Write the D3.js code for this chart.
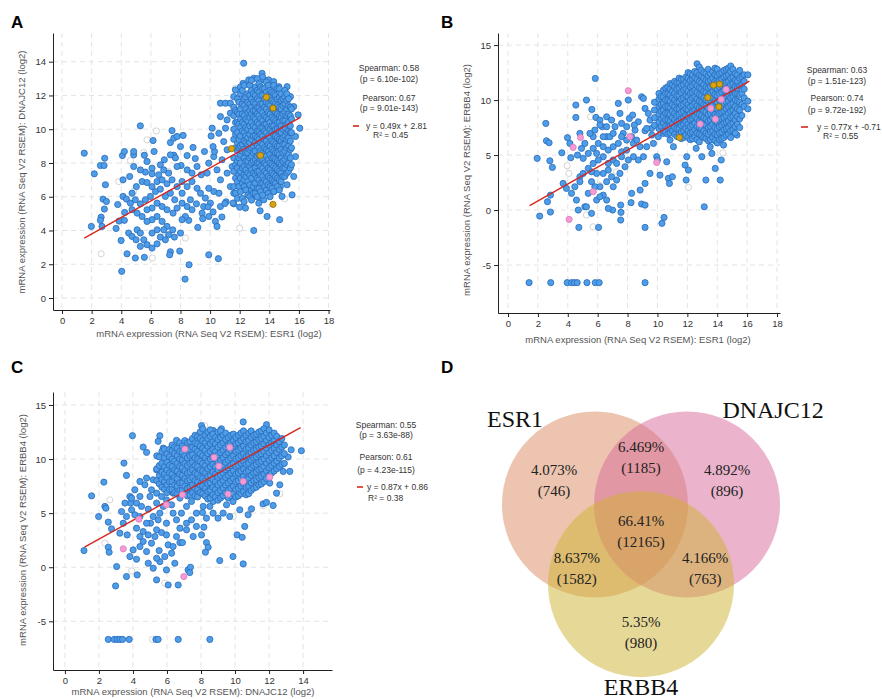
<!DOCTYPE html>
<html><head><meta charset="utf-8">
<script src="https://cdn.jsdelivr.net/npm/d3@7"></script>
<style>
body{margin:0;background:#fff;}
svg{display:block;font-family:"Liberation Sans",Arial,sans-serif;}
</style></head><body>
<svg id="chart" width="882" height="699"></svg>
<script>
// ---------------- DATA ----------------
// Panel A : ESR1 (x) vs DNAJC12 (y)
const xTicksA = [0,2,4,6,8,10,12,14,16,18];
const yTicksA = [0,2,4,6,8,10,12,14];
const bluePtsA = [[1.5,8.58],[2.18,7.36],[1.98,4.24],[2.59,7.85],[2.88,8.28],[2.84,7.85],[2.93,6.71],[2.77,5.86],[3.0,5.72],[2.86,5.27],[2.64,4.79],[2.59,4.6],[2.7,4.24],[3.65,4.12],[3.76,5.54],[3.85,4.56],[4.12,7.0],[4.08,8.44],[4.21,8.68],[4.12,6.02],[4.35,5.86],[4.23,5.07],[4.21,4.6],[3.99,3.41],[4.39,2.62],[4.03,1.58],[4.84,8.48],[4.84,8.68],[5.29,10.2],[4.95,2.37],[5.56,2.41],[6.15,9.33],[6.22,8.68],[5.56,8.46],[6.08,7.69],[6.64,7.89],[6.87,7.59],[7.2,7.4],[7.32,9.21],[7.43,9.92],[7.55,9.47],[7.77,9.57],[8.18,9.63],[8.0,8.97],[7.55,8.46],[7.66,8.3],[8.04,7.85],[8.45,8.44],[8.85,8.92],[9.0,8.26],[9.62,8.68],[9.91,7.99],[9.8,7.4],[9.4,7.3],[10.25,8.38],[10.3,8.68],[10.2,8.97],[10.07,9.6],[10.14,10.06],[10.7,10.75],[10.7,11.54],[11.04,11.54],[11.37,11.54],[8.11,6.9],[8.45,6.6],[8.78,6.9],[8.67,5.82],[9.12,6.5],[9.35,6.21],[9.68,5.92],[9.91,6.5],[10.25,6.31],[10.6,6.21],[9.08,5.58],[9.46,5.03],[9.91,4.83],[10.36,4.54],[10.47,4.24],[9.17,4.18],[8.56,4.6],[8.33,4.83],[8.11,5.62],[8.0,3.85],[7.95,2.78],[7.32,2.74],[7.27,2.56],[8.58,1.97],[8.31,1.12],[9.91,2.56],[10.56,2.33],[11.08,5.7],[11.6,5.58],[12.0,5.38],[12.39,5.33],[12.95,4.0],[13.38,5.17],[13.85,4.83],[14.7,4.64],[13.45,5.88],[13.06,6.06],
[5.07,4.04],[5.29,3.85],[5.52,3.45],[5.74,3.16],[6.08,2.96],[6.42,3.21],[6.64,3.61],[6.98,3.45],[7.2,3.75],[7.59,3.61],[7.48,4.04],[7.09,4.24],[6.76,4.54],[6.42,4.83],[6.08,4.64],[5.74,4.54],[5.41,4.83],[5.07,5.03],[4.73,5.23],[4.62,5.62],[4.95,5.82],[5.29,5.58],[5.63,5.82],[5.97,6.02],[6.31,6.31],[6.64,6.45],[6.98,6.02],[7.32,6.21],[7.61,5.82],[7.77,5.33],[7.5,5.03],[7.09,5.23],[6.76,5.42],[6.42,5.62],[6.08,5.33],[5.74,5.23],[5.41,6.9],[5.74,6.84],[6.08,6.6],[6.42,6.9],[6.76,7.0],[7.09,6.77],[7.43,7.0],[7.77,6.6],[5.02,6.6],[4.73,6.21],[4.5,3.85],[4.73,3.65],[5.0,3.45],[5.29,3.06],[6.08,3.85],[6.42,4.04],[6.87,4.04],[6.08,7.36],[5.63,7.46],[6.53,7.3],[4.57,7.2],[4.84,7.79],[5.29,7.59],[5.74,8.09],[6.91,8.19],[7.32,8.48],[7.77,7.79],[8.45,7.59],[8.78,7.4],[9.12,7.79],[8.11,6.21],[8.45,5.42],[8.78,5.23],[8.11,4.64],[9.57,5.42],[10.02,5.62],[10.7,5.42],[10.7,7.0],[10.47,7.59],[10.81,8.19],[11.15,8.78],[10.92,9.27],[10.59,9.76],[11.04,10.06],[11.15,10.55],[11.37,10.95],[11.71,11.14],[11.6,11.93],[11.71,12.33],[12.27,13.91],[12.23,12.72],[12.61,12.92],[12.95,13.02],[13.51,13.31],[13.63,12.92],[13.96,12.92],[14.3,12.82],[14.64,12.52],[15.2,12.52],[15.43,11.93],[15.65,11.34],[15.95,10.85],[16.06,10.06],[15.77,9.57],[15.77,8.38],[15.65,7.2],[15.54,6.11],[15.2,6.71],[14.86,6.02],[14.75,6.6],[14.3,6.31],[13.96,6.5],[13.63,5.82],[13.29,5.62],[12.95,6.6],[12.61,6.8],[12.27,6.41],[11.94,6.6],[11.6,6.21],[11.37,6.6],[11.15,7.4],[11.49,7.79],[10.8,4.8],[11.0,5.6],[9.5,4.7],[9.86,5.4],[10.2,5.1],[11.55,5.63]];
// dense cluster of panel A, read column by column: [x, [y values]]
const clusterA = [
 [11.6,[6.6,7.5,8.3,9.4,10.0,10.8,11.3]],
 [11.72,[6.2,7.1,7.9,8.9,9.7,10.4,11.1]],
 [11.85,[5.9,6.9,7.7,8.1,8.7,9.2,9.8,10.4,11.0,11.8]],
 [11.95,[6.6,7.3,8.3,8.9,9.4,10.3,10.9,11.6]],
 [12.05,[6.3,7.1,7.5,8.0,8.5,9.0,9.6,10.1,10.6,11.2,12.1,12.5]],
 [12.18,[5.9,6.8,7.7,8.7,9.1,9.9,10.4,10.9,11.5,12.3]],
 [12.3,[5.7,6.6,7.0,7.3,7.8,8.3,8.8,9.3,9.8,10.3,10.8,11.4,11.8,12.6]],
 [12.42,[6.4,7.2,7.6,8.1,8.6,9.2,9.6,10.1,10.6,11.2,11.9]],
 [12.55,[6.1,6.9,7.4,7.9,8.1,8.6,9.1,9.5,10.0,10.5,11.0,11.6,12.1]],
 [12.68,[6.0,6.7,7.3,7.8,8.3,8.8,9.2,9.7,10.2,10.7,11.1,11.5,12.0,12.6]],
 [12.8,[5.8,6.4,7.1,7.6,8.0,8.4,8.9,9.4,9.9,10.4,10.9,11.3,11.8,12.3,12.9]],
 [12.92,[6.2,6.6,7.4,8.1,8.6,9.0,9.6,10.2,10.7,11.1,11.6,12.1]],
 [13.05,[6.2,6.8,7.3,7.7,8.2,8.7,9.2,9.6,10.1,10.6,11.1,11.5,12.0,12.5]],
 [13.18,[6.0,6.5,7.1,7.5,8.0,8.4,9.0,9.5,9.9,10.4,10.9,11.3,11.8,12.3,13.0]],
 [13.3,[6.5,7.0,7.5,8.0,8.5,8.9,9.4,9.9,10.3,10.8,11.3,11.7,12.2,12.7]],
 [13.42,[6.3,6.8,7.3,7.8,8.2,8.7,9.2,9.7,10.1,10.6,11.1,11.5,12.0,12.5]],
 [13.55,[6.1,6.8,7.2,7.7,8.2,8.6,9.1,9.6,10.1,10.5,11.0,11.5,12.0,12.4,13.1]],
 [13.68,[6.6,7.0,7.5,8.0,8.5,8.9,9.4,9.9,10.3,10.8,11.3,11.8,12.4]],
 [13.8,[6.4,6.9,7.4,7.9,8.4,8.8,9.3,9.8,10.3,10.7,11.2,11.6,12.2,12.8]],
 [13.93,[6.2,6.7,7.2,7.7,8.2,8.7,9.1,9.6,10.1,10.6,11.0,11.5,12.0,12.6]],
 [14.05,[6.0,6.6,7.1,7.6,8.0,8.5,9.0,9.5,10.0,10.4,10.9,11.4,11.9,12.3]],
 [14.18,[6.5,7.0,7.4,7.9,8.3,8.8,9.3,9.8,10.2,10.7,11.2,11.7,12.2]],
 [14.3,[6.3,6.9,7.3,7.8,8.3,8.7,9.2,9.7,10.2,10.6,11.1,11.6,12.1,12.6]],
 [14.42,[6.8,7.2,7.7,8.2,8.6,9.1,9.6,10.0,10.5,11.0,11.5,12.0]],
 [14.55,[6.6,7.1,7.6,8.1,8.6,9.0,9.5,10.0,10.4,10.9,11.4,11.8,12.4]],
 [14.68,[6.4,7.0,7.5,8.0,8.5,9.0,9.4,9.9,10.4,10.8,11.3,11.9,12.4]],
 [14.8,[6.9,7.4,7.9,8.3,8.8,9.3,9.8,10.2,10.7,11.2,11.7,12.1]],
 [14.92,[7.2,7.7,8.1,8.6,9.1,9.5,10.0,10.5,10.9,11.4,11.8]],
 [15.05,[7.2,7.7,8.2,8.7,9.1,9.6,10.1,10.5,11.0,11.5,11.9,12.3]],
 [15.18,[7.4,7.9,8.4,8.9,9.4,9.8,10.3,10.8,11.2,11.7,12.1]],
 [15.3,[7.5,8.0,8.5,9.0,9.5,9.9,10.4,10.9,11.4,11.8]],
 [15.42,[7.7,8.3,8.8,9.3,9.8,10.2,10.8,11.3]],
 [15.5,[7.9,8.9,9.8,10.6,11.2]]
];
const grayPtsA = [[2.64,2.62],[4.62,8.15],[3.83,6.9],[5.74,9.37],[6.37,9.9],[6.1,2.37],[8.33,3.55],[6.8,3.61],[12.0,4.14],[15.04,5.88],[11.71,12.43],[5.52,8.62],[4.84,6.31],[7.2,7.5]];
const goldPtsA = [[11.45,8.85],[13.8,11.9],[14.25,11.25],[13.4,8.45],[14.25,5.55]];
const pinkPtsA = [];
const regA = {slope:0.49, intercept:2.81, from:1.5, to:16.1};
const statsA = ["Spearman: 0.58","(p = 6.10e-102)","Pearson: 0.67","(p = 9.01e-143)","y = 0.49x + 2.81","R\u00b2 = 0.45"];

// Panel B : ESR1 (x) vs ERBB4 (y)
const xTicksB = [0,2,4,6,8,10,12,14,16,18];
const yTicksB = [-5,0,5,10,15];
const bluePtsB = [[1.95,4.7],[2.53,7.88],[2.57,6.3],[2.75,6.12],[2.8,4.48],[2.97,3.88],[2.84,1.36],[2.84,-0.18],[2.64,0.76],[2.12,-0.55],[3.6,5.21],[3.98,6.58],[4.14,6.06],[4.2,4.76],[4.54,9.55],[4.54,8.42],[4.65,5.0],[4.81,6.97],[4.92,5.61],[5.03,4.7],[4.81,3.03],[4.58,0.91],[4.7,0.0],[4.74,-1.58],[5.25,10.0],[5.61,9.15],[5.84,11.97],[5.88,8.42],[6.06,-1.58],[6.15,8.18],[6.31,7.58],[6.6,8.48],[6.6,6.67],[6.82,6.67],[7.16,7.58],[7.38,9.7],[7.49,8.79],[7.71,6.97],[7.6,5.3],[8.05,10.0],[8.12,8.33],[8.34,8.64],[8.5,7.27],[8.72,8.03],[8.94,10.3],[9.06,10.15],[9.17,9.24],[9.17,7.21],[9.39,8.79],[9.5,8.18],[9.6,7.42],[9.73,6.06],[9.95,4.85],[10.0,4.55],[10.62,4.39],[10.73,2.88],[11.0,3.03],[10.8,2.42],[10.17,3.18],[9.5,3.33],[9.17,2.42],[8.84,1.82],[8.94,0.55],[9.17,0.45],[9.17,-1.58],[10.3,-1.21],[10.44,-0.67],[8.27,1.52],[8.23,0.67],[7.54,0.45],[7.56,-0.21],[7.54,-0.91],[7.0,0.0],[6.71,0.15],[6.6,0.91],[6.37,1.36],[6.15,2.12],[5.81,2.12],[5.59,2.58],[5.37,1.52],[5.14,0.3],[5.59,-0.3],[5.25,0.3],[5.93,0.91],[6.15,1.21],[7.04,2.12],[7.27,2.73],[7.49,3.33],[7.83,3.94],[8.05,4.55],[8.39,4.85],[8.72,4.55],[9.06,4.85],[9.28,5.76],[8.83,5.76],[8.39,6.06],[7.94,6.36],[8.27,6.67],[8.61,6.36],[7.04,4.55],[6.71,4.24],[6.37,4.85],[6.04,4.55],[5.7,4.24],[5.37,3.79],[5.03,3.33],[4.81,2.58],[4.47,2.12],[4.25,1.52],[3.91,1.97],[3.69,2.42],[5.37,5.15],[5.7,5.61],[6.04,6.06],[6.37,5.76],[6.71,5.45],[7.04,5.76],[7.38,6.06],[7.6,6.67],[7.04,6.97],[6.37,6.67],[5.7,6.67],[5.93,5.15],[5.14,6.06],[6.71,3.64],[6.37,3.33],[5.93,3.33],[5.59,3.48],[6.93,3.03],[6.6,2.58],[7.27,4.24],[7.6,4.85],[7.94,5.45],[6.15,7.73],[5.81,7.27],[5.48,6.97],[6.6,7.58],[6.93,8.18],[7.6,7.88],[7.94,7.58],[8.45,7.73],[9.28,7.42],[9.62,6.82],[10.06,6.67],[10.4,6.97],[10.84,6.36],[11.07,5.76],[11.52,6.67],[11.96,4.85],[11.85,4.09],[12.07,3.64],[11.92,2.73],[12.59,5.61],[12.97,4.85],[13.24,2.73],[13.13,0.3],[13.87,3.79],[14.2,2.73],[14.27,4.55],[13.64,5.15],[13.53,5.76],[14.42,5.91],[14.87,6.97],[15.32,6.82],[12.65,13.3],
[1.41,-6.6],[2.86,-6.6],[3.96,-6.6],[4.25,-6.6],[4.43,-6.6],[4.63,-6.6],[5.28,-6.6],[5.84,-6.6],[6.1,-6.6],[9.17,-6.6]];
const clusterB = [
 [9.8,[7.7,8.4,9.1,9.8]],
 [10.1,[7.4,8.0,8.7,9.4,10.1,10.6]],
 [10.25,[7.6,8.3,9.0,9.6,10.3]],
 [10.4,[7.2,7.9,8.5,9.1,9.7,10.3,10.9]],
 [10.55,[7.1,7.6,8.2,8.8,9.4,10.0,10.6,11.1]],
 [10.7,[6.9,7.5,8.2,8.8,9.4,10.0,10.6,11.2]],
 [10.85,[7.0,7.6,8.1,8.7,9.3,9.9,10.5,11.0,11.5]],
 [11.0,[7.2,7.8,8.4,9.0,9.6,10.2,10.8,11.4]],
 [11.15,[6.9,7.5,8.2,8.8,9.4,10.0,10.6,11.2,11.7]],
 [11.3,[6.7,7.4,8.0,8.6,9.2,9.8,10.4,11.0,11.6]],
 [11.45,[6.9,7.4,8.1,8.7,9.2,9.8,10.4,11.1,11.6,12.0]],
 [11.6,[6.5,7.1,7.7,8.3,8.9,9.5,10.1,10.7,11.3,11.9]],
 [11.75,[6.6,7.2,7.8,8.4,9.0,9.6,10.2,10.9,11.4,11.9]],
 [11.9,[6.8,7.4,8.0,8.6,9.2,9.8,10.4,11.0,11.6,12.1]],
 [12.05,[6.6,7.2,7.8,8.5,9.1,9.6,10.3,10.8,11.4,12.0,12.5]],
 [12.2,[6.4,7.0,7.6,8.2,8.8,9.4,10.0,10.6,11.2,11.8,12.4]],
 [12.35,[6.5,7.1,7.7,8.3,9.0,9.5,10.2,10.7,11.3,11.9,12.3]],
 [12.5,[6.7,7.3,7.9,8.5,9.1,9.7,10.3,10.9,11.5,12.0,12.6]],
 [12.65,[6.4,7.0,7.6,8.3,8.9,9.5,10.1,10.7,11.3,11.9,12.5]],
 [12.8,[6.2,6.9,7.5,8.1,8.7,9.3,9.9,10.5,11.1,11.7,12.3,13.0]],
 [12.95,[6.8,7.4,8.0,8.6,9.2,9.8,10.4,11.0,11.6,12.2,12.7]],
 [13.1,[6.6,7.2,7.8,8.4,9.0,9.6,10.2,10.8,11.4,12.0,12.5]],
 [13.25,[6.5,7.0,7.7,8.3,8.9,9.5,10.0,10.7,11.2,11.8,12.4]],
 [13.4,[6.3,6.9,7.5,8.1,8.7,9.3,9.9,10.5,11.1,11.7,12.2,12.8]],
 [13.55,[6.4,7.1,7.6,8.2,8.8,9.4,10.0,10.6,11.2,11.8,12.4]],
 [13.7,[6.6,7.2,7.8,8.4,9.0,9.6,10.2,10.8,11.4,12.0,12.6]],
 [13.85,[6.3,6.9,7.5,8.1,8.7,9.3,9.9,10.5,11.1,11.7,12.3,12.9]],
 [14.0,[6.1,6.8,7.4,8.0,8.6,9.2,9.8,10.4,11.0,11.6,12.2,12.8]],
 [14.15,[6.4,7.0,7.6,8.2,8.8,9.4,10.0,10.6,11.2,11.8,12.4]],
 [14.3,[6.5,7.1,7.7,8.3,8.9,9.5,10.1,10.7,11.3,11.9,12.5]],
 [14.45,[6.6,7.3,7.9,8.4,9.0,9.7,10.3,10.9,11.5,12.1,12.7]],
 [14.6,[6.8,7.4,8.0,8.6,9.2,9.8,10.4,11.0,11.6,12.2,12.8]],
 [14.75,[6.9,7.5,8.1,8.8,9.4,9.9,10.5,11.1,11.7,12.3,12.9]],
 [14.9,[6.6,7.2,7.8,8.4,9.0,9.6,10.2,10.8,11.4,12.0,12.6,13.1]],
 [15.05,[7.3,7.9,8.5,9.1,9.7,10.3,10.9,11.5,12.1,12.8]],
 [15.2,[7.0,7.6,8.2,8.8,9.4,10.0,10.6,11.2,11.8,12.4]],
 [15.35,[7.8,8.5,9.2,9.9,10.6,11.1,11.7,12.3]],
 [15.5,[7.5,8.3,9.1,9.8,10.5,11.3,12.0,12.7]],
 [15.65,[8.6,9.6,10.6,11.4,12.1]],
 [15.8,[9.4,10.2,11.0,11.7,12.3]],
 [16.05,[9.2,9.9,12.3]]
];
const grayPtsB = [[3.96,4.03],[4.07,3.33],[5.52,8.48],[5.25,-0.45],[5.7,-1.52],[7.27,3.48],[12.07,2.06],[14.38,5.21],[6.1,2.27]];
const pinkPtsB = [[8.05,10.85],[4.85,6.6],[4.36,5.7],[8.16,6.67],[9.95,4.33],[5.7,1.67],[4.09,-0.85],[14.6,10.97],[14.27,10.06],[13.57,9.24],[13.87,8.27],[12.86,7.82]];
const goldPtsB = [[11.47,6.6],[13.75,11.36],[14.16,11.45],[13.37,10.24],[14.11,9.39]];
const regB = {slope:0.77, intercept:-0.71, from:1.45, to:16.15};
const statsB = ["Spearman: 0.63","(p = 1.51e-123)","Pearson: 0.74","(p = 9.72e-192)","y = 0.77x + -0.71","R\u00b2 = 0.55"];

// Panel C : DNAJC12 (x) vs ERBB4 (y)
const xTicksC = [0,2,4,6,8,10,12,14];
const yTicksC = [-5,0,5,10,15];
const bluePtsC = [[1.12,1.54],[1.57,6.6],[1.98,4.69],[2.29,7.87],[2.35,5.62],[2.41,5.46],[2.55,4.17],[2.74,3.55],[2.55,1.85],[2.6,1.39],[3.04,0.06],[2.98,-1.73],[3.33,5.15],[3.47,9.63],[3.62,8.49],[3.66,2.99],[3.62,-0.86],[3.97,12.16],[3.82,6.54],[3.86,5.93],[4.11,4.85],[4.21,3.61],[4.21,0.74],[4.25,-0.71],[4.6,11.11],[4.8,10.62],[4.7,7.62],[5.0,6.54],[4.9,5.37],[5.03,4.07],[4.9,2.99],[4.8,1.45],[4.9,0.37],[5.19,-0.09],[5.39,-1.17],[5.54,1.54],[5.58,12.16],[5.48,11.64],[5.78,11.02],[5.97,10.09],[5.74,8.55],[5.68,3.21],[5.97,4.07],[6.07,-1.64],[5.97,-0.25],[6.56,11.73],[6.66,-1.64],[6.46,0.37],[6.76,2.28],[6.91,2.28],[7.24,-0.25],[7.38,0.0],[7.34,-0.49],[7.73,5.0],[8.09,5.06],[8.17,3.7],[8.32,2.28],[8.42,1.85],[8.26,1.39],[9.1,0.62],[9.88,0.99],[10.48,0.31],[10.12,2.99],[10.42,2.77],[10.57,3.77],[10.77,4.85],[10.97,5.4],[11.65,5.86],[11.85,5.99],[12.24,5.71],[12.44,6.85],[12.83,8.86],[13.22,8.86],[13.12,10.19],[13.3,10.86],[13.9,10.77],[12.63,7.62],[12.04,7.78],
[3.23,3.15],[3.43,4.07],[3.62,4.69],[3.92,5.31],[4.21,5.93],[4.41,6.54],[4.5,5.62],[4.41,4.69],[4.41,2.84],[4.6,2.38],[4.41,1.91],[4.01,1.6],[3.82,0.99],[5.09,2.22],[5.29,2.84],[5.39,3.46],[5.48,4.38],[5.58,5.0],[5.78,5.62],[5.39,5.93],[5.19,4.69],[4.8,4.07],[4.6,3.3],[5.97,2.99],[6.07,2.07],[5.87,0.99],[5.58,0.52],[5.39,0.83],[6.27,1.3],[6.36,1.91],[6.56,2.84],[6.76,3.61],[6.56,4.38],[6.36,5.0],[6.27,5.77],[5.97,6.23],[5.68,6.54],[5.39,6.85],[5.09,7.16],[5.58,7.78],[5.97,7.16],[6.36,6.85],[6.76,6.39],[7.15,5.62],[6.85,5.0],[7.44,6.08],[7.73,6.54],[7.93,7.16],[7.63,7.78],[7.34,7.16],[7.05,7.62],[6.76,7.93],[6.36,8.4],[5.97,8.55],[5.39,9.01],[5.78,9.17],[5.19,8.09],[4.8,8.24],[4.41,7.93],[4.11,7.16],[3.92,6.39],[3.53,5.93],[8.32,4.54],[8.71,5.0],[9.0,4.54],[9.3,5.0],[9.69,4.69],[9.5,5.77],[9.88,6.08],[10.28,5.31],[8.71,6.08],[8.32,6.54],[9.1,6.54],[9.69,7.16],[8.52,5.62],[8.13,5.62],[7.15,4.07],[7.44,4.38],[7.73,3.77],[7.15,3.46],[7.54,2.84],[8.03,2.99],[8.03,13.09],[10.48,13.43],[11.85,13.18],[8.71,12.65],[9.2,12.8],
[2.55,-6.67],[2.9,-6.67],[3.07,-6.67],[3.23,-6.67],[3.39,-6.67],[3.78,-6.67],[5.35,-6.67],[5.48,-6.67],[6.66,-6.67],[8.52,-6.67]];
const clusterC = [
 [5.4,[8.0,9.1,10.3]],
 [5.55,[7.7,8.5,9.4,10.2]],
 [5.7,[7.4,8.1,8.8,9.6,10.7]],
 [5.85,[7.2,7.9,8.6,9.3,10.1,10.9]],
 [6.0,[6.9,7.6,8.3,9.0,9.7,10.5]],
 [6.15,[7.2,7.9,8.7,9.4,10.2,10.9]],
 [6.3,[7.2,7.9,8.6,9.3,10.0,10.8,11.3]],
 [6.45,[6.9,7.6,8.3,9.0,9.8,10.5,11.1]],
 [6.6,[6.8,7.5,8.2,8.9,9.6,10.3,11.0]],
 [6.75,[7.1,7.8,8.6,9.3,10.0,10.7,11.5]],
 [6.9,[7.1,7.8,8.5,9.2,9.9,10.6,11.2]],
 [7.05,[6.8,7.5,8.2,8.9,9.6,10.3,11.0,11.7]],
 [7.2,[6.6,7.3,8.0,8.7,9.4,10.1,10.8,11.5]],
 [7.35,[6.7,7.4,8.1,8.8,9.6,10.3,10.9,11.6]],
 [7.5,[6.9,7.6,8.3,9.0,9.7,10.4,11.1,11.9]],
 [7.65,[6.6,7.3,8.0,8.7,9.4,10.1,10.9,11.5,12.2]],
 [7.8,[6.5,7.2,7.9,8.6,9.3,10.0,10.7,11.4,12.1]],
 [7.95,[6.9,7.6,8.3,9.0,9.8,10.5,11.2,11.9,12.5]],
 [8.1,[6.8,7.5,8.2,8.9,9.6,10.3,11.0,11.7,12.8]],
 [8.25,[6.6,7.3,8.0,8.7,9.4,10.1,10.8,11.5,12.2]],
 [8.4,[6.3,7.0,7.7,8.4,9.1,9.8,10.5,11.2,11.9,12.5]],
 [8.55,[6.4,7.1,7.8,8.5,9.3,10.0,10.7,11.4,12.1,12.7]],
 [8.7,[6.7,7.4,8.1,8.8,9.5,10.2,10.9,11.6,12.3]],
 [8.85,[6.5,7.2,7.9,8.6,9.3,10.0,10.7,11.4,12.0]],
 [9.0,[6.2,6.9,7.6,8.3,9.0,9.7,10.4,11.1,11.8,12.5]],
 [9.15,[6.4,7.1,7.8,8.5,9.2,9.9,10.6,11.3,12.0,12.6]],
 [9.3,[6.6,7.3,8.0,8.7,9.4,10.1,10.8,11.5,12.2]],
 [9.45,[6.9,7.6,8.3,9.0,9.7,10.4,11.1,11.8,12.4]],
 [9.6,[6.4,7.1,7.8,8.5,9.2,9.9,10.6,11.3,12.0]],
 [9.75,[6.6,7.3,8.0,8.7,9.4,10.1,10.8,11.5,12.2]],
 [9.9,[6.8,7.5,8.2,8.9,9.6,10.3,11.0,11.7,12.3]],
 [10.05,[6.5,7.2,7.9,8.6,9.3,10.0,10.7,11.4,12.0]],
 [10.2,[6.6,7.3,8.0,8.7,9.4,10.1,10.8,11.5,12.2]],
 [10.35,[6.8,7.5,8.2,8.9,9.6,10.3,11.0,11.7,12.4]],
 [10.5,[7.0,7.7,8.4,9.1,9.8,10.5,11.2,11.9,12.6]],
 [10.65,[6.7,7.4,8.1,8.8,9.5,10.2,10.9,11.6,12.2]],
 [10.8,[6.8,7.5,8.2,8.9,9.6,10.3,11.0,11.7,12.4]],
 [10.95,[7.1,7.8,8.5,9.2,9.9,10.6,11.3,12.0,12.6]],
 [11.1,[7.3,8.0,8.7,9.4,10.1,10.8,11.5,12.2]],
 [11.25,[7.4,8.1,8.8,9.5,10.2,10.9,11.6,12.3]],
 [11.4,[7.6,8.3,9.0,9.7,10.4,11.1,11.8,12.5]],
 [11.55,[7.7,8.4,9.1,9.8,10.5,11.2,11.9,12.6]],
 [11.7,[7.9,8.6,9.3,10.0,10.7,11.4,12.1,12.8]],
 [11.85,[8.2,8.9,9.6,10.3,11.0,11.7,12.4]],
 [12.0,[8.5,9.2,9.9,10.6,11.3,12.0,12.7]],
 [12.15,[8.7,9.4,10.1,10.8,11.5,12.2]],
 [12.3,[8.9,9.6,10.3,11.0,11.7,12.4]],
 [12.45,[9.1,9.8,10.6,11.3,12.1]],
 [12.6,[9.3,10.1,10.9,11.6]],
 [12.75,[9.5,10.3,11.1,11.9]],
 [12.9,[9.6,10.5,11.3]]
];
const grayPtsC = [[2.64,6.23],[2.35,2.22],[3.92,-0.34],[6.85,3.61],[9.89,4.69],[10.92,5.31],[11.65,5.68],[12.63,6.79],[12.39,9.88],[8.22,13.09],[8.52,11.73],[5.87,-1.48],[5.15,-6.67]];
const pinkPtsC = [[7.05,10.93],[9.69,11.08],[8.77,10.15],[9.05,9.35],[12.04,8.33],[10.48,7.93],[9.59,6.76],[6.91,6.7],[5.97,5.77],[4.35,4.44],[3.43,1.7],[6.99,-0.86]];
const goldPtsC = [];
const regC = {slope:0.87, intercept:0.86, from:1.15, to:13.85};
const statsC = ["Spearman: 0.55","(p = 3.63e-88)","Pearson: 0.61","(p = 4.23e-115)","y = 0.87x + 0.86","R\u00b2 = 0.38"];

// Panel D : Venn
const vennSets = ["ESR1","DNAJC12","ERBB4"];
const vennRegionPct = ["4.073%","6.469%","4.892%","66.41%","8.637%","4.166%","5.35%"];
const vennRegionCount = ["(746)","(1185)","(896)","(12165)","(1582)","(763)","(980)"];

// ---------------- DRAWING ----------------
const svg = d3.select("#chart");
const flat = cl => cl.flatMap(([x, ys]) => ys.map(y => [x, y]));

function drawScatter(c){
  const g = svg.append("g");
  const x = d3.scaleLinear().domain(c.xDomain).range([c.left, c.right]);
  const y = d3.scaleLinear().domain(c.yDomain).range([c.bottom, c.top]);
  g.append("g").selectAll("line").data(c.xTicks).join("line")
    .attr("x1", d => x(d)).attr("x2", d => x(d)).attr("y1", c.top).attr("y2", c.bottom)
    .attr("stroke", "#e4e4e4").attr("stroke-dasharray", "5,4").attr("stroke-width", 1);
  g.append("g").selectAll("line").data(c.yTicks).join("line")
    .attr("y1", d => y(d)).attr("y2", d => y(d)).attr("x1", c.left).attr("x2", c.right)
    .attr("stroke", "#e4e4e4").attr("stroke-dasharray", "5,4").attr("stroke-width", 1);
  const ax = g.append("g").attr("transform", `translate(0,${c.bottom})`)
    .call(d3.axisBottom(x).tickValues(c.xTicks).tickFormat(d => String(d)).tickSize(4).tickSizeOuter(0));
  const ay = g.append("g").attr("transform", `translate(${c.left},0)`)
    .call(d3.axisLeft(y).tickValues(c.yTicks).tickFormat(d => String(d)).tickSize(4).tickSizeOuter(0));
  [ax, ay].forEach(a => {
    a.select(".domain").attr("stroke", "#222");
    a.selectAll(".tick line").attr("stroke", "#222");
    a.selectAll(".tick text").attr("fill", "#333").style("font-size", "9.5px").style("font-family", "Liberation Sans, Arial, sans-serif");
  });
  const dot = (data, fill, stroke) => g.append("g").selectAll("circle").data(data).join("circle")
    .attr("cx", d => x(d[0])).attr("cy", d => y(d[1])).attr("r", 3.1)
    .attr("fill", fill).attr("stroke", stroke).attr("stroke-width", 0.8);
  dot(c.gray, "#ffffff", "#c9c9c9");
  dot(c.blue, "#4d9de9", "#2a6ab8");
  g.append("line")
    .attr("x1", x(c.reg.from)).attr("y1", y(c.reg.slope * c.reg.from + c.reg.intercept))
    .attr("x2", x(c.reg.to)).attr("y2", y(c.reg.slope * c.reg.to + c.reg.intercept))
    .attr("stroke", "#d8261c").attr("stroke-width", 1.4);
  dot(c.pink, "#f39bd4", "#d97bb8");
  dot(c.gold, "#d9a40f", "#8c6a05");
  g.append("text").attr("x", c.xLabelX).attr("y", c.xLabelY).attr("text-anchor", "middle")
    .attr("fill", "#555").style("font-size", "9.5px").text(c.xLabel);
  g.append("text").attr("transform", `translate(${c.yLabelX},${c.yLabelY}) rotate(-90)`)
    .attr("text-anchor", "middle").attr("dy", "0.35em")
    .attr("fill", "#555").style("font-size", "9.5px").text(c.yLabel);
  g.append("text").attr("x", c.letterX).attr("y", c.letterY).attr("font-weight", "bold")
    .style("font-size", "17px").attr("fill", "#000").text(c.letter);
  const s = c.stats, st = c.statPos;
  const tx = (t, xx, yy, anchor) => g.append("text").attr("x", xx).attr("y", yy).attr("text-anchor", anchor)
    .attr("fill", "#333").style("font-size", "8.5px").text(t);
  tx(s[0], st.cx, st.ys[0], "middle");
  tx(s[1], st.cx, st.ys[1], "middle");
  tx(s[2], st.cx, st.ys[2], "middle");
  tx(s[3], st.cx, st.ys[3], "middle");
  g.append("line").attr("x1", st.dash0).attr("x2", st.dash1).attr("y1", st.ys[4] - 3).attr("y2", st.ys[4] - 3)
    .attr("stroke", "#d8261c").attr("stroke-width", 1.6);
  tx(s[4], st.eqX, st.ys[4], "start");
  tx(s[5], st.r2X, st.ys[5], "start");
}

drawScatter({
  letter:"A", letterX:11, letterY:28,
  left:53, right:330, top:33, bottom:310, xDomain:[-0.61,18.1], yDomain:[-0.71,15.7],
  xTicks:xTicksA, yTicks:yTicksA,
  blue: bluePtsA.concat(flat(clusterA)), gray: grayPtsA, pink: pinkPtsA, gold: goldPtsA, reg: regA,
  xLabel:"mRNA expression (RNA Seq V2 RSEM): ESR1 (log2)", xLabelX:209, xLabelY:337,
  yLabel:"mRNA expression (RNA Seq V2 RSEM): DNAJC12 (log2)", yLabelX:22, yLabelY:172,
  stats:statsA, statPos:{cx:389, ys:[71,82,101,111,129,138], dash0:353, dash1:359, eqX:366, r2X:373}
});
drawScatter({
  letter:"B", letterX:441, letterY:28,
  left:498, right:780, top:33, bottom:313, xDomain:[-0.67,18.2], yDomain:[-9.36,16.1],
  xTicks:xTicksB, yTicks:yTicksB,
  blue: bluePtsB.concat(flat(clusterB)), gray: grayPtsB, pink: pinkPtsB, gold: goldPtsB, reg: regB,
  xLabel:"mRNA expression (RNA Seq V2 RSEM): ESR1 (log2)", xLabelX:638, xLabelY:343,
  yLabel:"mRNA expression (RNA Seq V2 RSEM): ERBB4 (log2)", yLabelX:467, yLabelY:180,
  stats:statsB, statPos:{cx:837, ys:[73,84,101,113,130,139], dash0:801, dash1:808, eqX:817, r2X:823}
});
drawScatter({
  letter:"C", letterX:11, letterY:373,
  left:53, right:332, top:392, bottom:670, xDomain:[-0.7,15.7], yDomain:[-9.5,16.2],
  xTicks:xTicksC, yTicks:yTicksC,
  blue: bluePtsC.concat(flat(clusterC)), gray: grayPtsC, pink: pinkPtsC, gold: goldPtsC, reg: regC,
  xLabel:"mRNA expression (RNA Seq V2 RSEM): DNAJC12 (log2)", xLabelX:193, xLabelY:695,
  yLabel:"mRNA expression (RNA Seq V2 RSEM): ERBB4 (log2)", yLabelX:23, yLabelY:530,
  stats:statsC, statPos:{cx:386, ys:[428,438,460,473,490,501], dash0:357, dash1:363, eqX:367, r2X:368}
});

// Venn diagram (panel D)
(function(){
  const g = svg.append("g");
  g.append("text").attr("x", 441).attr("y", 373).attr("font-weight", "bold")
    .style("font-size", "17px").text("D");
  const cx0 = 641, cy0 = 531, r = 93;
  const d = r * 0.99, R = d / Math.sqrt(3);
  const ang = [-150, -30, 90].map(a => a * Math.PI / 180);
  const centers = ang.map(a => [cx0 + R * Math.cos(a), cy0 + R * Math.sin(a)]);
  const fills = ["#d9895f", "#d8699a", "#cdb130"];
  g.append("g").selectAll("circle").data(vennSets).join("circle")
    .attr("cx", (s, i) => centers[i][0]).attr("cy", (s, i) => centers[i][1]).attr("r", r)
    .attr("fill", (s, i) => fills[i]).attr("fill-opacity", 0.5);
  const setPos = [[-1.355,-1.12],[1.42,-1.215],[0,1.76]];
  g.append("g").selectAll("text").data(vennSets).join("text")
    .attr("x", (s, i) => cx0 + setPos[i][0] * r).attr("y", (s, i) => cy0 + setPos[i][1] * r)
    .attr("text-anchor", "middle").style("font-family", "Liberation Serif, Times New Roman, serif")
    .style("font-size", "24px").attr("fill", "#111").text(s => s);
  const regPos = [[-0.935,-0.6],[0,-0.85],[0.925,-0.6],[0,-0.055],[-0.69,0.345],[0.69,0.345],[0,1.03]];
  const rg = g.append("g").style("font-family", "Liberation Serif, Times New Roman, serif")
    .style("font-size", "15px").attr("fill", "#222").attr("text-anchor", "middle");
  vennRegionPct.forEach((p, i) => {
    rg.append("text").attr("x", cx0 + regPos[i][0] * r).attr("y", cy0 + regPos[i][1] * r).text(p);
    rg.append("text").attr("x", cx0 + regPos[i][0] * r).attr("y", cy0 + regPos[i][1] * r + 21).text(vennRegionCount[i]);
  });
})();
</script></body></html>
